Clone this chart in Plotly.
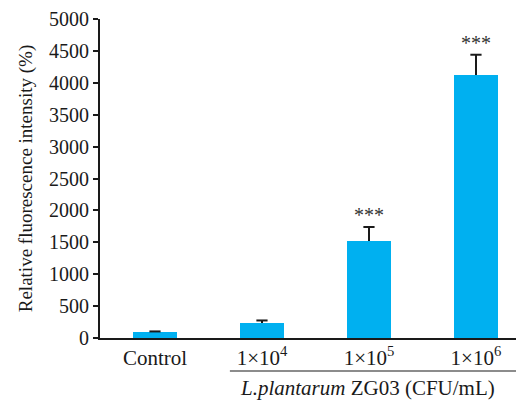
import plotly.graph_objects as go

categories = ["Control", "1×10<sup>4</sup>", "1×10<sup>5</sup>", "1×10<sup>6</sup>"]
values = [95, 235, 1520, 4120]
errors = [8, 40, 220, 320]
significance = ["", "", "***", "***"]
y_ticks = [0, 500, 1000, 1500, 2000, 2500, 3000, 3500, 4000, 4500, 5000]

FONT = "Liberation Serif, Times New Roman, serif"
TXT = "#1a1a1a"
xpos = list(range(len(categories)))
tops = [v + e for v, e in zip(values, errors)]

fig = go.Figure()
fig.add_trace(go.Bar(
    x=xpos, y=values, width=0.405,
    marker=dict(color="#00B0F0", line=dict(width=0)),
    error_y=dict(type="data", symmetric=False, array=errors,
                 arrayminus=[0] * len(errors), color="#1a1a1a",
                 thickness=2, width=0),
))
# error-bar caps (top only)
fig.add_trace(go.Scatter(
    x=xpos, y=tops, mode="markers",
    marker=dict(symbol="line-ew", size=8, line=dict(width=2, color="#1a1a1a")),
    hoverinfo="skip",
))

for i, s in enumerate(significance):
    if s:
        fig.add_annotation(x=xpos[i], y=tops[i], text=s,
                           showarrow=False, yanchor="bottom", yshift=-1,
                           font=dict(family=FONT, size=20, color="#333333"))

fig.add_shape(type="line", xref="x", yref="paper", x0=0.7, x1=3.45,
              y0=-0.1034, y1=-0.1034, line=dict(color=TXT, width=1.2))
fig.add_annotation(xref="x", yref="paper", x=1.99, y=-0.157,
                   text="<i>L.plantarum</i> ZG03 (CFU/mL)", showarrow=False,
                   yanchor="middle", font=dict(family=FONT, size=21, color=TXT))

# page body has an 8px default margin, so the figure is 8px smaller and offset
fig.update_layout(
    width=516, height=392,
    margin=dict(l=92, r=0, t=11, b=62),
    paper_bgcolor="white", plot_bgcolor="white",
    showlegend=False,
    font=dict(family=FONT, size=19, color=TXT),
    bargap=0,
)
fig.update_xaxes(range=[-0.514, 3.449], tickmode="array", tickvals=xpos,
                 ticktext=categories, showgrid=False, zeroline=False,
                 showline=True, linecolor=TXT, linewidth=2, ticks="",
                 automargin=False,
                 tickfont=dict(family=FONT, size=21, color=TXT))
fig.update_yaxes(range=[0, 5000], tickmode="array", tickvals=y_ticks,
                 showgrid=False, zeroline=False, showline=True, linecolor=TXT,
                 linewidth=2, ticks="outside", ticklen=5, tickwidth=2,
                 automargin=False,
                 tickcolor=TXT, tickfont=dict(family=FONT, size=20, color=TXT),
                 title=dict(text="Relative fluorescence intensity (%)",
                            font=dict(family=FONT, size=19, color=TXT),
                            standoff=11))

fig.write_html("out.html")
